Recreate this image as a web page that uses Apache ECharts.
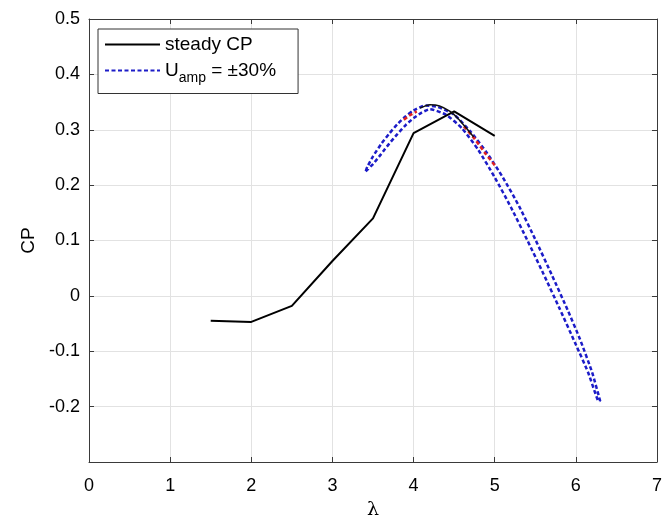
<!DOCTYPE html>
<html>
<head>
<meta charset="utf-8">
<script src="https://cdn.jsdelivr.net/npm/echarts@6/dist/echarts.min.js"></script>
<style>html,body{margin:0;padding:0;background:#fff}#c{width:665px;height:525px}</style>
</head>
<body>
<div id="c"></div>
<script>
// Steady CP curve
var steadyX = [1.5, 2.0, 2.5, 3.0, 3.5, 4.0, 4.5, 5.0];
var steadyY = [-0.045, -0.047, -0.018, 0.063, 0.140, 0.294, 0.333, 0.289];

// U_amp = ±30% loop: inner branch (left tip -> right tip)
var loopInnerX = [3.41, 3.5, 3.6, 3.7, 3.8, 3.9, 4.0, 4.1, 4.2, 4.4, 4.6, 4.8, 5.0, 5.2, 5.4, 5.6, 5.8, 6.0, 6.15, 6.27];
var loopInnerY = [0.225, 0.238, 0.256, 0.275, 0.292, 0.308, 0.321, 0.331, 0.337, 0.327, 0.302, 0.263, 0.214, 0.160, 0.101, 0.040, -0.023, -0.088, -0.138, -0.188];
// outer branch (right tip -> left tip)
var loopOuterX = [6.30, 6.2, 6.05, 5.9, 5.7, 5.5, 5.3, 5.1, 4.9, 4.7, 4.5, 4.3, 4.15, 4.0, 3.9, 3.8, 3.7, 3.6, 3.5, 3.43, 3.41];
var loopOuterY = [-0.190, -0.138, -0.078, -0.026, 0.039, 0.102, 0.162, 0.214, 0.259, 0.297, 0.327, 0.341, 0.344, 0.335, 0.324, 0.310, 0.293, 0.274, 0.252, 0.233, 0.225];

// red dashed segments (visible parts)
var redX = [3.88, 3.95, 4.04, null, 4.62, 4.75, 4.88, 5.0];
var redY = [0.318, 0.326, 0.333, null, 0.306, 0.284, 0.258, 0.236];

// black arc over the peak
var arcX = [4.08, 4.2, 4.32, 4.45, 4.55, 4.65, 4.74];
var arcY = [0.339, 0.345, 0.343, 0.333, 0.320, 0.303, 0.287];

var xTicks = [0, 1, 2, 3, 4, 5, 6, 7];
var yTicks = [-0.3, -0.2, -0.1, 0, 0.1, 0.2, 0.3, 0.4, 0.5];

function pairs(xs, ys) {
  var out = [];
  for (var i = 0; i < xs.length; i++) {
    out.push(xs[i] === null ? [null, null] : [xs[i], ys[i]]);
  }
  return out;
}

var loopData = pairs(loopInnerX, loopInnerY).concat(pairs(loopOuterX, loopOuterY));
var FONT = 'Liberation Sans, Arial, sans-serif';

var chart = echarts.init(document.getElementById('c'));
var gridLine = { show: true, lineStyle: { color: '#e2e2e2', width: 1 } };
var axisLine = { show: true, onZero: false, lineStyle: { color: '#3a3a3a', width: 1 } };
var tick = { show: true, inside: true, length: 5, lineStyle: { color: '#3a3a3a' } };

chart.setOption({
  animation: false,
  backgroundColor: '#fff',
  grid: { left: 89, right: 2, top: 19, bottom: 60 },
  legend: {
    orient: 'vertical',
    left: 98, top: 29,
    data: ['steady CP', 'U_amp'],
    backgroundColor: '#fff',
    borderColor: '#333', borderWidth: 1,
    padding: [6, 22, 8, 6],
    itemWidth: 55, itemHeight: 14, itemGap: 7,
    itemStyle: { opacity: 0 },
    textStyle: {
      fontFamily: FONT, fontSize: 19, color: '#000',
      rich: {
        n: { fontFamily: FONT, fontSize: 19, color: '#000' },
        s: { fontFamily: FONT, fontSize: 14, color: '#000', padding: [16, 0, 0, 0] }
      }
    },
    formatter: function (name) {
      if (name === 'U_amp') return '{n|U}{s|amp}{n| = ±30%}';
      return name;
    }
  },
  xAxis: [{
    type: 'value', min: 0, max: 7, interval: 1,
    name: 'λ', nameLocation: 'middle', nameGap: 39,
    nameTextStyle: { fontFamily: 'DejaVu Serif, serif', fontSize: 19, color: '#000' },
    axisLine: axisLine, axisTick: tick, splitLine: gridLine,
    axisLabel: { fontFamily: FONT, fontSize: 18, color: '#000', margin: 15 }
  }, {
    type: 'value', min: 0, max: 7, interval: 1, position: 'top',
    axisLine: axisLine, axisTick: tick, splitLine: { show: false }, axisLabel: { show: false }
  }],
  yAxis: [{
    type: 'value', min: -0.3, max: 0.5, interval: 0.1,
    name: 'CP', nameLocation: 'middle', nameGap: 44, nameRotate: 90,
    nameTextStyle: { fontFamily: FONT, fontSize: 19, color: '#000' },
    axisLine: axisLine, axisTick: tick, splitLine: gridLine,
    axisLabel: {
      fontFamily: FONT, fontSize: 18, color: '#000', margin: 9,
      formatter: function (v) {
        var r = Math.round(v * 10) / 10;
        if (r === -0.3) return '';
        return String(r);
      }
    }
  }, {
    type: 'value', min: -0.3, max: 0.5, interval: 0.1, position: 'right',
    axisLine: axisLine, axisTick: tick, splitLine: { show: false }, axisLabel: { show: false }
  }],
  series: [{
    name: 'steady CP', type: 'line', symbol: 'none',
    data: pairs(steadyX, steadyY),
    lineStyle: { color: '#000', width: 2 }, itemStyle: { color: '#000' }, z: 4
  }, {
    name: 'U_amp', type: 'line', symbol: 'none', smooth: 0.2,
    data: loopData,
    lineStyle: { color: '#1c1cc8', width: 2.5, type: [4, 2.5] }, itemStyle: { color: '#1c1cc8' }, z: 3
  }, {
    name: 'red', type: 'line', symbol: 'none', smooth: 0.2, connectNulls: false,
    data: pairs(redX, redY),
    lineStyle: { color: '#e02020', width: 2.5, type: [4, 2.5] }, itemStyle: { color: '#e02020' }, z: 5
  }, {
    name: 'arc', type: 'line', symbol: 'none', smooth: 0.2,
    data: pairs(arcX, arcY),
    lineStyle: { color: '#111', width: 1.5 }, itemStyle: { color: '#111' }, z: 6
  }]
});
</script>
</body>
</html>
